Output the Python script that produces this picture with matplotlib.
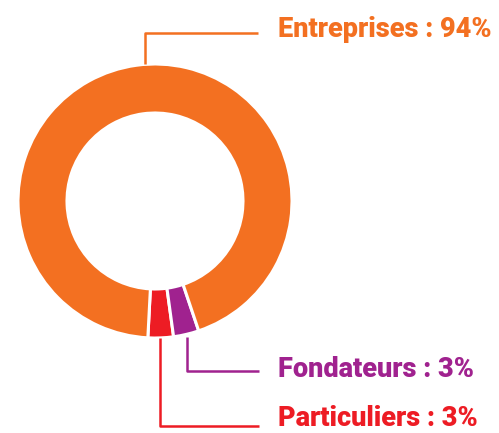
import matplotlib
matplotlib.use("Agg")
import matplotlib.pyplot as plt

labels = ["Particuliers", "Fondateurs", "Entreprises"]
shares = [3, 3, 94]
colors = ["#ED1C24", "#A0228F", "#F37021"]

W, H = 499, 433
fig = plt.figure(figsize=(W / 100, H / 100), dpi=100)
ax = fig.add_axes([0, 0, 1, 1])

cx, cy, r = 155, H - 201, 137
ax.pie(shares, colors=colors, startangle=267, counterclock=True,
       center=(cx, cy), radius=r, frame=True,
       wedgeprops=dict(width=r - 88, edgecolor="white", linewidth=2.2))
ax.set_xlim(0, W)
ax.set_ylim(0, H)
ax.set_aspect("equal")
ax.axis("off")

lw = 1.8
ax.plot([145, 145, 258], [H - 64, H - 33, H - 33], color=colors[2], lw=lw, solid_capstyle="butt")
ax.plot([187, 187, 259], [H - 337, H - 371, H - 371], color=colors[1], lw=lw, solid_capstyle="butt")
ax.plot([160, 160, 259], [H - 338, H - 426, H - 426], color=colors[0], lw=lw, solid_capstyle="butt")

font = dict(family="Roboto", weight="heavy", fontsize=19.5)
ax.text(278, H - 37, f"{labels[2]} : {shares[2]}%", color=colors[2], va="baseline", **font)
ax.text(278, H - 377, f"{labels[1]} : {shares[1]}%", color=colors[1], va="baseline", **font)
ax.text(278, H - 426, f"{labels[0]} : {shares[0]}%", color=colors[0], va="baseline", **font)

fig.savefig("out.png", dpi=100)
